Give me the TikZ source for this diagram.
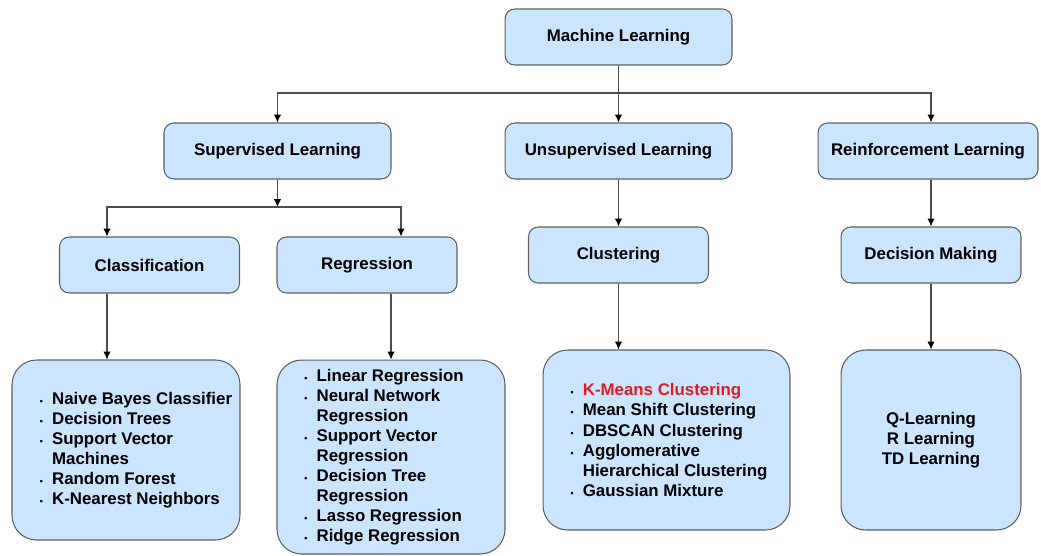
\documentclass[tikz,border=0pt]{standalone}
\usepackage{fontspec}
\usetikzlibrary{arrows.meta}
\setmainfont{Liberation Sans}
\definecolor{boxfill}{HTML}{CCE5FF}
\definecolor{boxline}{HTML}{5F5F5F}
\definecolor{kred}{HTML}{DD1C24}
\newlength{\lpad}
\newcommand{\bul}{\hspace*{\lpad}\makebox[7pt][l]{\fontsize{5}{5}\selectfont\textbullet}}
\newcommand{\nob}{\hspace*{\lpad}\makebox[7pt]{}}
\tikzset{
  box/.style={draw=boxline, fill=boxfill, rounded corners=5.5pt, line width=0.6pt, inner sep=0pt,
    font=\fontsize{9.6}{11.4}\selectfont\bfseries},
  listbox/.style={box, rounded corners=14pt, align=left},
  pad/.style={execute at begin node={\setlength{\lpad}{#1}}},
  link/.style={-{Latex[length=4.5pt,width=4.2pt,black]}, line width=0.6pt, draw=black!70}
}
\begin{document}
\begin{tikzpicture}[x=0.02cm, y=-0.02cm]
        \useasboundingbox (0,0) rectangle (1041,555);
        % boxes
        \node[box, minimum width=4.54cm, minimum height=1.12cm] (ml) at (618.5,37) {Machine Learning};
        \node[box, minimum width=4.54cm, minimum height=1.12cm] (sup) at (277.5,151) {Supervised Learning};
        \node[box, minimum width=4.54cm, minimum height=1.12cm] (unsup) at (618.5,151) {Unsupervised Learning};
        \node[box, minimum width=4.4cm, minimum height=1.12cm] (rein) at (928,151) {Reinforcement Learning};
        \node[box, minimum width=3.6cm, minimum height=1.12cm] (cls) at (149.5,265) {Classification};
        \node[box, minimum width=3.6cm, minimum height=1.12cm] (reg) at (367,265) {Regression};
        \node[box, minimum width=3.6cm, minimum height=1.12cm] (clu) at (618.5,255) {Clustering};
        \node[box, minimum width=3.6cm, minimum height=1.12cm] (dm) at (931,255) {Decision Making};
        % lists
        \node[listbox, pad=0.4cm, minimum width=4.56cm, minimum height=3.6cm] (clslist) at (126,450) {\bul Naive Bayes Classifier\\ \bul Decision Trees\\ \bul Support Vector\\ \nob Machines\\ \bul Random Forest\\ \bul K-Nearest Neighbors};
        \node[listbox, pad=-0.28cm, minimum width=4.56cm, minimum height=3.88cm] (reglist) at (391,457) {\bul Linear Regression\\ \bul Neural Network\\ \nob Regression\\ \bul Support Vector\\ \nob Regression\\ \bul Decision Tree\\ \nob Regression\\ \bul Lasso Regression\\ \bul Ridge Regression};
        \node[listbox, pad=0.1cm, minimum width=4.94cm, minimum height=3.6cm] (clulist) at (666.5,440) {\bul \textcolor{kred}{K-Means Clustering}\\ \bul Mean Shift Clustering\\ \bul DBSCAN Clustering\\ \bul Agglomerative\\ \nob Hierarchical Clustering\\ \bul Gaussian Mixture};
        \node[listbox, align=center, minimum width=3.6cm, minimum height=3.6cm] (dmlist) at (931,440) {Q-Learning\\ R Learning\\ TD Learning};
        % connectors
        \coordinate (top) at (618.5,93);
        \draw[link] (ml) -- (unsup);
        \draw[link] (top) -| (sup);
        \draw[link] (top) -| (rein.north -| dm);
        \coordinate (mid) at (277.5,207);
        \coordinate (lft) at (107,207);
        \coordinate (rgt) at (401,207);
        \draw[link] (sup) -- (mid);
        \draw[link] (mid) -| (cls.north -| lft);
        \draw[link] (mid) -| (reg.north -| rgt);
        \draw[link] (cls.south -| lft) -- (clslist.north -| lft);
        \draw[link] (reg.south -| reglist) -- (reglist);
        \draw[link] (unsup) -- (clu);
        \draw[link] (clu) -- (clu |- clulist.north);
        \draw[link] (rein.south -| dm) -- (dm);
        \draw[link] (dm) -- (dmlist);
\end{tikzpicture}
\end{document}
